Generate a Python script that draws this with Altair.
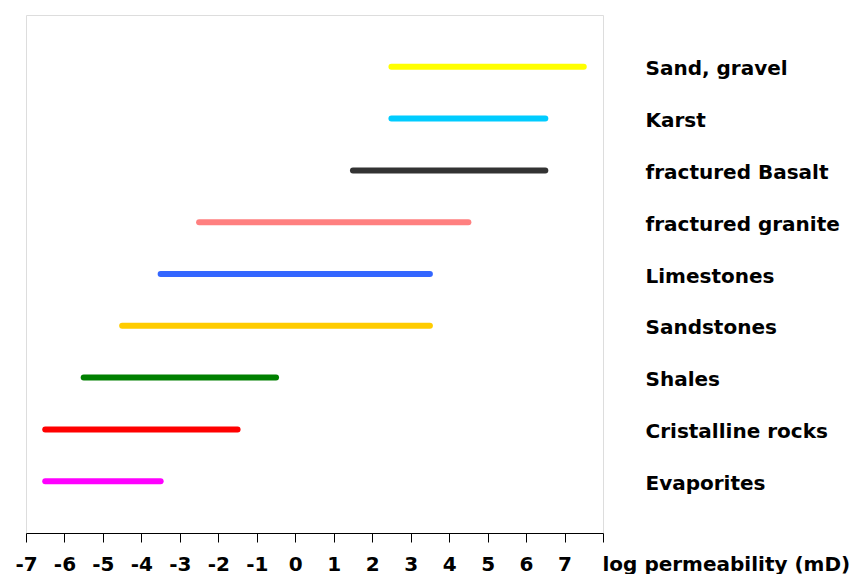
import altair as alt
import pandas as pd

rocks = ["Sand, gravel", "Karst", "fractured Basalt", "fractured granite",
         "Limestones", "Sandstones", "Shales", "Cristalline rocks", "Evaporites"]
low = [2.5, 2.5, 1.5, -2.5, -3.5, -4.5, -5.5, -6.5, -6.5]
high = [7.5, 6.5, 6.5, 4.5, 3.5, 3.5, -0.5, -1.5, -3.5]
colors = ["#FFFF00", "#00CCFF", "#333333", "#FF8080", "#3366FF",
          "#FFCC00", "#008000", "#FF0000", "#FF00FF"]
ticks = list(range(-7, 9))

df = pd.DataFrame({"rock": rocks, "low": low, "high": high, "color": colors})

FONT = "DejaVu Sans"

chart = alt.Chart(df).mark_rule(strokeWidth=6, strokeCap="round").encode(
    x=alt.X("low:Q",
            scale=alt.Scale(domain=[-7, 8], nice=False, zero=False),
            axis=alt.Axis(values=ticks, grid=False, domainColor="#000000",
                          tickColor="#000000", tickSize=9, labelPadding=12,
                          labelFont=FONT, labelFontSize=20, labelFontWeight="bold",
                          labelColor="#000000", labelFlush=False, labelOverlap=False,
                          labelExpr="datum.value == 8 ? '' : (datum.value < 0 ? '-' + abs(datum.value) : '' + datum.value)",
                          title="log permeability (mD)", titleFont=FONT,
                          titleFontSize=20, titleFontWeight="bold", titleColor="#000000",
                          titleAlign="left", titleBaseline="alphabetic",
                          titleX=576, titleY=37, titleAngle=0)),
    x2="high:Q",
    y=alt.Y("rock:N", sort=rocks,
            scale=alt.Scale(type="point", padding=1),
            axis=alt.Axis(orient="right", domain=False, ticks=False, grid=False,
                          labelPadding=42, labelFont=FONT, labelFontSize=20,
                          labelFontWeight="bold", labelColor="#000000",
                          labelAlign="left", labelBaseline="middle", labelLimit=0,
                          labelOffset=2, title=None)),
    color=alt.Color("color:N", scale=None, legend=None),
).properties(
    width=577, height=518,
    autosize=alt.AutoSizeParams(type="none"),
    padding={"left": 18, "top": 7, "right": 251, "bottom": 41},
).configure_view(
    stroke="#a0a0a0", strokeWidth=1
).configure(background="#ffffff")

chart.save("out.html", embed_options={"renderer": "svg", "actions": False})
